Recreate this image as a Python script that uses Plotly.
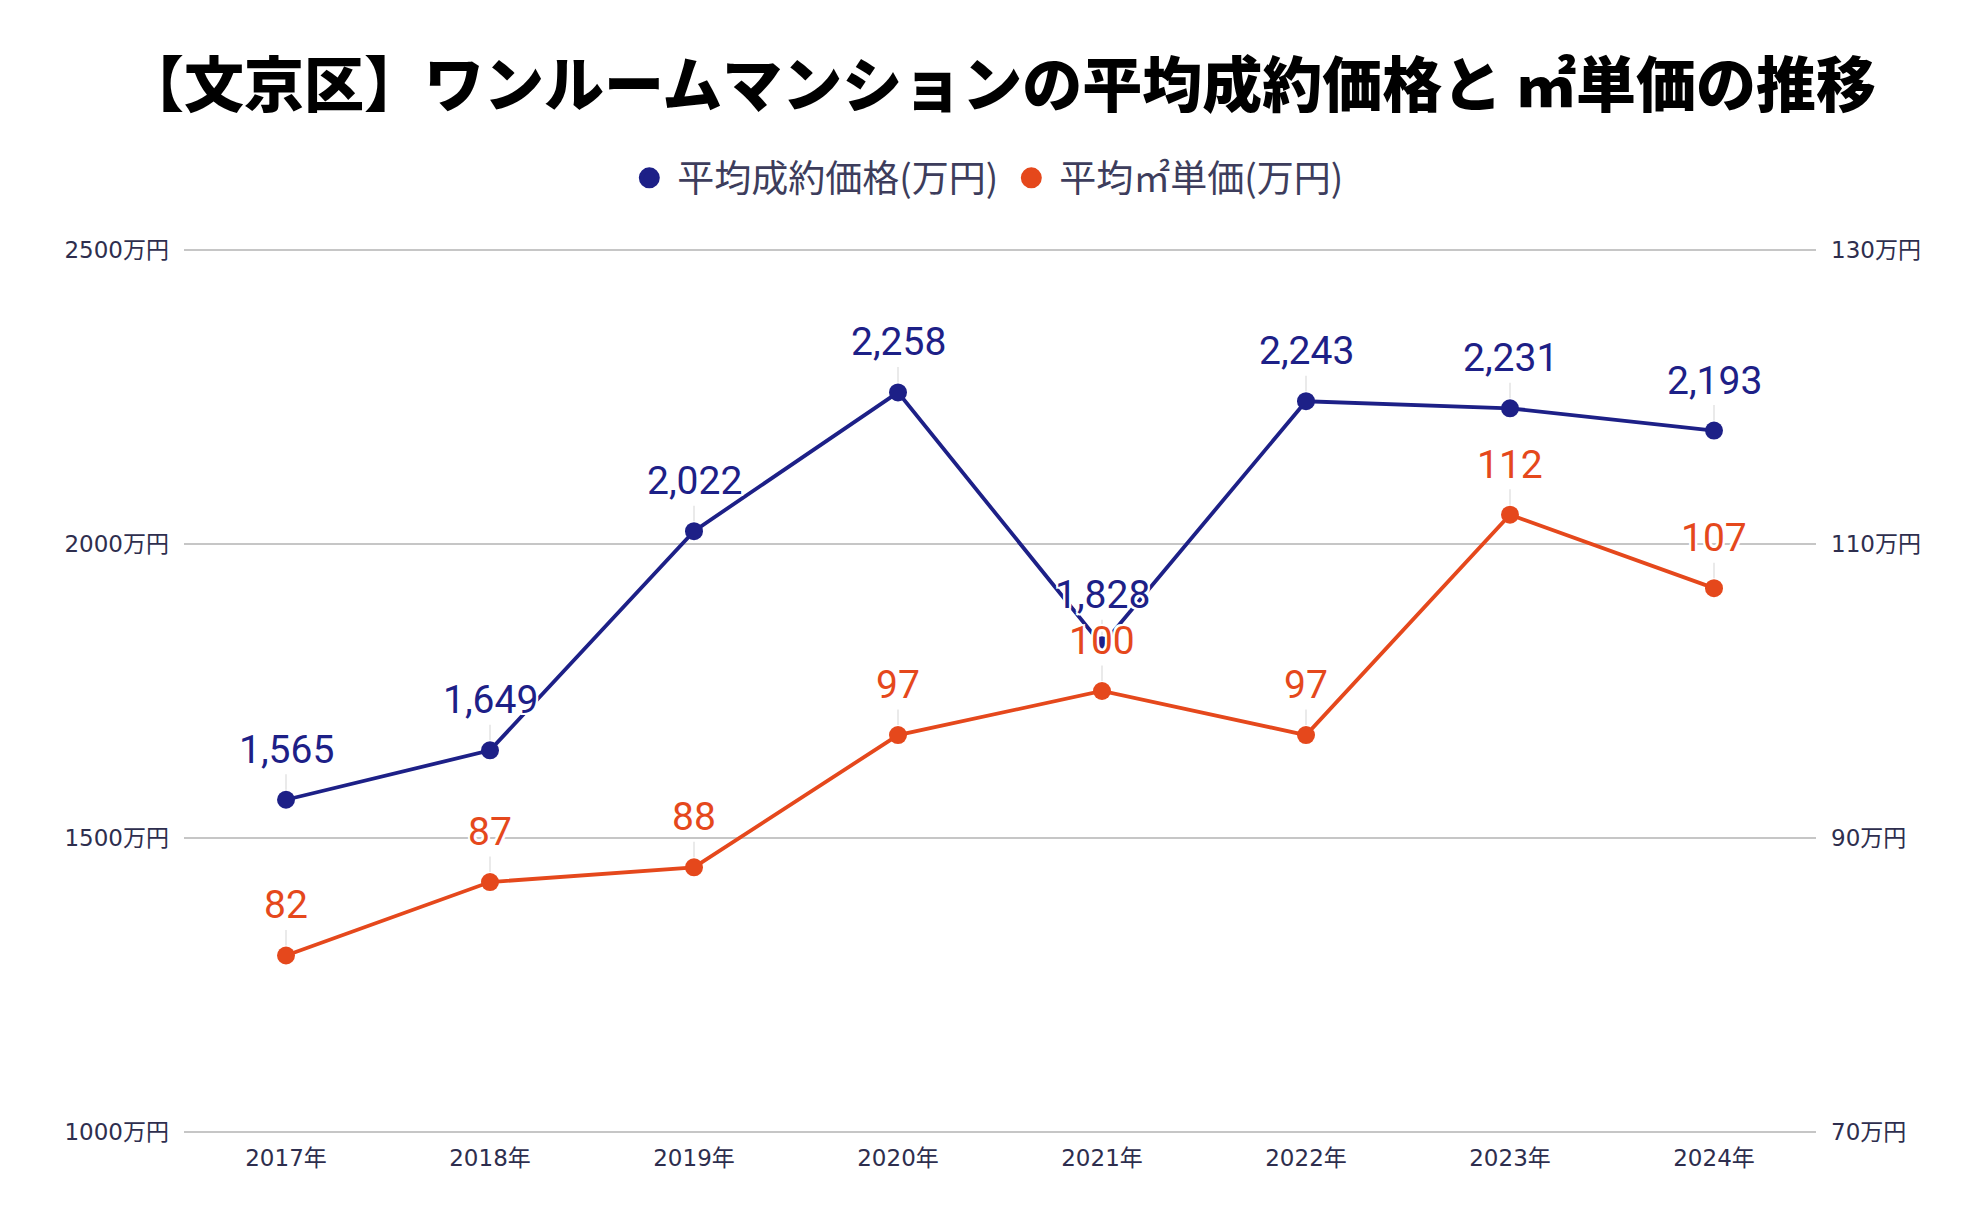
import plotly.graph_objects as go

years = ["2017年", "2018年", "2019年", "2020年", "2021年", "2022年", "2023年", "2024年"]
avg_price = [1565, 1649, 2022, 2258, 1828, 2243, 2231, 2193]
unit_price = [82, 87, 88, 97, 100, 97, 112, 107]

name_price = "平均成約価格(万円)"
name_unit = "平均㎡単価(万円)"
title_text = "【文京区】ワンルームマンションの平均成約価格と ㎡単価の推移"

left_ticks = [1000, 1500, 2000, 2500]
right_ticks = [70, 90, 110, 130]

BLUE = "#1d2087"
ORANGE = "#e5481c"
TICK_COLOR = "#2e2e4e"
LEG_COLOR = "#3d3d5c"

fig = go.Figure()
fig.add_trace(go.Scatter(
    x=years, y=avg_price, mode="lines+markers", name=name_price,
    line=dict(color=BLUE, width=3.8), marker=dict(size=18, color=BLUE),
    showlegend=False, yaxis="y", hoverinfo="skip"))
fig.add_trace(go.Scatter(
    x=years, y=unit_price, mode="lines+markers", name=name_unit,
    line=dict(color=ORANGE, width=3.8), marker=dict(size=18, color=ORANGE),
    showlegend=False, yaxis="y2", hoverinfo="skip"))
# legend-only entries (circle only)
fig.add_trace(go.Scatter(x=[None], y=[None], mode="markers", name=name_price,
                         marker=dict(size=16, color=BLUE, line=dict(color=BLUE, width=6))))
fig.add_trace(go.Scatter(x=[None], y=[None], mode="markers", name=name_unit,
                         marker=dict(size=16, color=ORANGE, line=dict(color=ORANGE, width=6))))

halo = "2px 2px 0 #fff, -2px -2px 0 #fff, 2px -2px 0 #fff, -2px 2px 0 #fff, 0 2px 0 #fff, 0 -2px 0 #fff, 2px 0 0 #fff, -2px 0 0 #fff"
annotations = []
for yr, v in zip(years, avg_price):
    annotations.append(dict(
        x=yr, y=v, xref="x", yref="y", text=f"{v:,}", showarrow=True,
        arrowhead=0, arrowwidth=1.5, arrowcolor="#e3e3e3", ax=0, ay=-50,
        standoff=10, font=dict(family="Roboto", size=39, color=BLUE, shadow=halo)))
for yr, v in zip(years, unit_price):
    annotations.append(dict(
        x=yr, y=v, xref="x", yref="y2", text=f"{v:,}", showarrow=True,
        arrowhead=0, arrowwidth=1.5, arrowcolor="#e3e3e3", ax=0, ay=-50,
        standoff=10, font=dict(family="Roboto", size=39, color=ORANGE, shadow=halo)))

tickfont = dict(family="DejaVu Sans, Noto Sans CJK JP", size=23, color=TICK_COLOR)

eps_l = 2.0
eps_r = eps_l * (right_ticks[-1] - right_ticks[0]) / (left_ticks[-1] - left_ticks[0])

fig.update_layout(
    width=1984, height=1228,
    paper_bgcolor="white", plot_bgcolor="white",
    margin=dict(l=176, r=176, t=241, b=103),
    title=dict(text=title_text, x=0.5, xanchor="center", y=1 - 78 / 1228, yanchor="middle",
               font=dict(family="Noto Sans CJK JP", size=60, color="#000000", weight=900)),
    legend=dict(orientation="h", x=0.491, xanchor="center", y=1.08, yanchor="middle",
                font=dict(family="Noto Sans CJK JP", size=37, color=LEG_COLOR),
                itemsizing="trace", itemwidth=46, bgcolor="rgba(0,0,0,0)"),
    xaxis=dict(type="category", categoryorder="array", categoryarray=years,
               range=[-0.5, len(years) - 0.5], showgrid=False, showline=False,
               zeroline=False, ticks="", tickfont=tickfont, ticklabelstandoff=9),
    yaxis=dict(range=[left_ticks[0] - eps_l, left_ticks[-1] + eps_l], tickvals=left_ticks,
               ticktext=[f"{t}万円" for t in left_ticks], showgrid=True,
               gridcolor="#c6c6c6", gridwidth=1.5, zeroline=False, showline=False,
               ticks="", tickfont=tickfont, ticklabelstandoff=14),
    yaxis2=dict(range=[right_ticks[0] - eps_r, right_ticks[-1] + eps_r], tickvals=right_ticks,
                ticktext=[f"{t}万円" for t in right_ticks], overlaying="y", side="right",
                showgrid=False, zeroline=False, showline=False, ticks="",
                tickfont=tickfont, ticklabelstandoff=14),
    annotations=annotations,
    showlegend=True,
)

fig.write_html("out.html")
